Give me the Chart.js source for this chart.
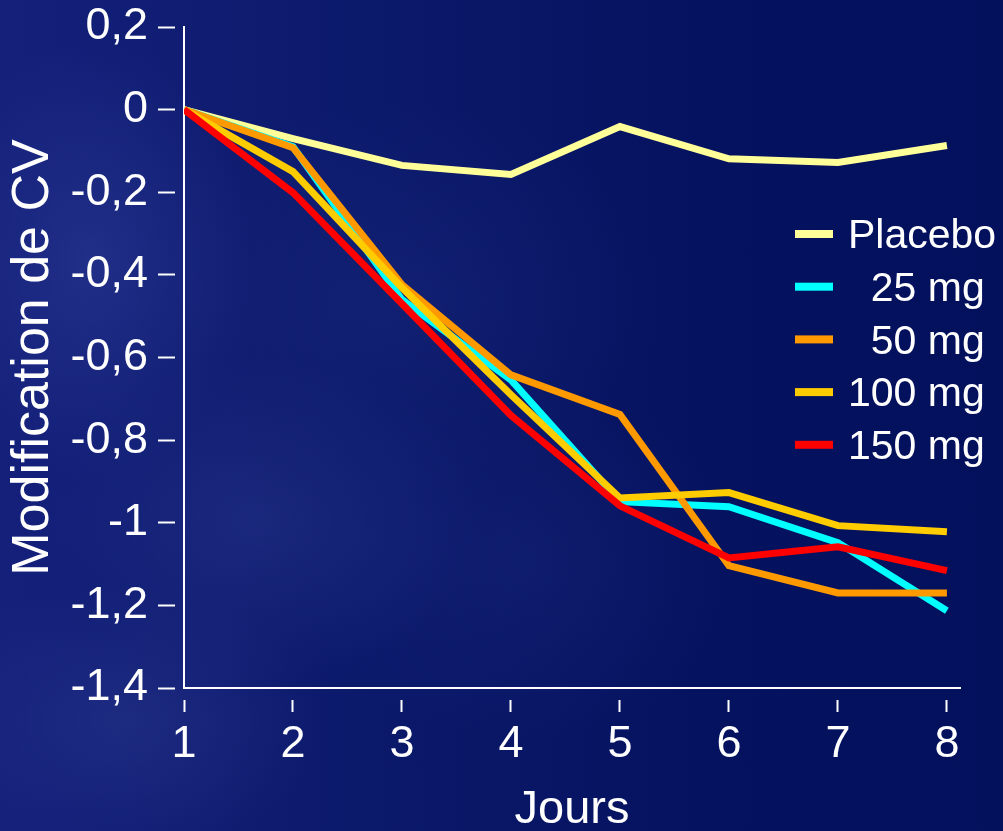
<!DOCTYPE html>
<html>
<head>
<meta charset="utf-8">
<script src="https://cdn.jsdelivr.net/npm/chart.js@4/dist/chart.umd.min.js"></script>
<style>
  html, body { margin: 0; padding: 0; }
  body {
    width: 1003px; height: 831px; overflow: hidden;
    background-color: #06135f;
    background-image:
      radial-gradient(ellipse 160px 220px at 90px 260px, rgba(45,60,150,0.55), rgba(45,60,150,0) 100%),
      radial-gradient(ellipse 220px 160px at 260px 520px, rgba(40,55,140,0.45), rgba(40,55,140,0) 100%),
      radial-gradient(ellipse 200px 140px at 120px 720px, rgba(40,55,140,0.5), rgba(40,55,140,0) 100%),
      radial-gradient(ellipse 260px 200px at 400px 300px, rgba(30,45,130,0.35), rgba(30,45,130,0) 100%),
      radial-gradient(ellipse 220px 180px at 520px 560px, rgba(30,45,130,0.3), rgba(30,45,130,0) 100%),
      linear-gradient(90deg, #14207a 0%, #0c1a6c 35%, #05125f 70%, #03105c 100%);
  }
  canvas { display: block; }
</style>
</head>
<body>
<canvas id="myChart" width="1003" height="831"></canvas>
<script>
// data
const days = [1, 2, 3, 4, 5, 6, 7, 8];
const placebo = [0, -0.07, -0.135, -0.157, -0.041, -0.119, -0.128, -0.087];
const mg25 = [0, -0.09, -0.46, -0.654, -0.949, -0.961, -1.048, -1.213];
const mg50 = [0, -0.092, -0.424, -0.642, -0.738, -1.104, -1.17, -1.17];
const mg100 = [0, -0.15, -0.431, -0.69, -0.94, -0.927, -1.007, -1.022];
const mg150 = [0, -0.201, -0.47, -0.74, -0.959, -1.085, -1.058, -1.116];

const seriesLabels = ['Placebo', '  25 mg', '  50 mg', '100 mg', '150 mg'];
const seriesValues = [placebo, mg25, mg50, mg100, mg150];
const seriesColors = ['#ffff99', '#00ffff', '#ff9900', '#ffcc00', '#ff0000'];

const xTicks = [1, 2, 3, 4, 5, 6, 7, 8];
const yTicks = [0.2, 0, -0.2, -0.4, -0.6, -0.8, -1, -1.2, -1.4];
const yTickLabels = ['0,2', '0', '-0,2', '-0,4', '-0,6', '-0,8', '-1', '-1,2', '-1,4'];

const FONT = "'Liberation Sans', Arial, sans-serif";

// build datasets
const datasets = seriesLabels.map((lab, i) => ({
  label: lab,
  data: days.map((d, j) => ({ x: d, y: seriesValues[i][j] })),
  borderColor: seriesColors[i],
  backgroundColor: seriesColors[i],
  borderWidth: 7,
  borderJoinStyle: 'miter',
  borderCapStyle: 'butt',
  pointRadius: 0,
  tension: 0,
  fill: false,
  order: seriesLabels.length - i
}));

// legend drawn over the plot, right side
const sideLegend = {
  id: 'sideLegend',
  afterDraw(chart) {
    const ctx = chart.ctx;
    const area = chart.chartArea;
    const x0 = area.right - 165;
    const y0 = 234;
    const step = 52.7;
    ctx.save();
    ctx.font = '41px ' + FONT;
    ctx.textBaseline = 'middle';
    ctx.textAlign = 'left';
    chart.data.datasets.forEach((ds, i) => {
      const y = y0 + i * step;
      ctx.fillStyle = ds.borderColor;
      ctx.fillRect(x0, y - 4, 38, 8);
      ctx.fillStyle = '#ffffff';
      ctx.fillText(ds.label, x0 + 53, y + 3);
    });
    ctx.restore();
  }
};

const config = {
  type: 'line',
  data: { datasets: datasets },
  options: {
    responsive: false,
    animation: false,
    layout: { padding: { top: 27, right: 43, left: 0, bottom: 0 } },
    plugins: {
      legend: { display: false },
      tooltip: { enabled: false }
    },
    scales: {
      x: {
        type: 'linear',
        min: 1,
        max: 8.12,
        afterBuildTicks: (scale) => { scale.ticks = xTicks.map(v => ({ value: v })); },
        afterFit: (scale) => { scale.height = 143; scale.paddingLeft = 0; scale.paddingRight = 0; },
        border: { display: true, color: '#ffffff', width: 2 },
        grid: {
          drawOnChartArea: false,
          drawTicks: true,
          tickLength: 24,
          tickWidth: 2,
          tickColor: '#ffffff',
          tickBorderDash: [0, 11, 13, 60]
        },
        ticks: {
          color: '#ffffff',
          font: { family: FONT, size: 45 },
          padding: 6,
          maxRotation: 0,
          autoSkip: false,
          callback: (v) => String(v)
        },
        title: {
          display: true,
          text: 'Jours',
          color: '#ffffff',
          font: { family: FONT, size: 47, lineHeight: 0.9 },
          padding: { top: 0, bottom: 0 }
        }
      },
      y: {
        min: -1.4,
        max: 0.2,
        afterBuildTicks: (scale) => { scale.ticks = yTicks.map(v => ({ value: v })); },
        afterFit: (scale) => { scale.width = 184; scale.paddingTop = 0; scale.paddingBottom = 0; },
        border: { display: true, color: '#ffffff', width: 2 },
        grid: {
          drawOnChartArea: false,
          drawTicks: true,
          tickLength: 26,
          tickWidth: 2,
          tickColor: '#ffffff',
          tickBorderDash: [17, 60]
        },
        ticks: {
          color: '#ffffff',
          font: { family: FONT, size: 45 },
          padding: 10,
          autoSkip: false,
          callback: (v) => {
            const k = yTicks.findIndex(t => Math.abs(t - v) < 1e-6);
            return k >= 0 ? yTickLabels[k] : '';
          }
        },
        title: {
          display: true,
          text: 'Modification de CV',
          color: '#ffffff',
          font: { family: FONT, size: 52 },
          padding: { top: 2, bottom: 0 }
        }
      }
    }
  },
  plugins: [sideLegend]
};

const myChart = new Chart(document.getElementById('myChart'), config);
</script>
</body>
</html>
